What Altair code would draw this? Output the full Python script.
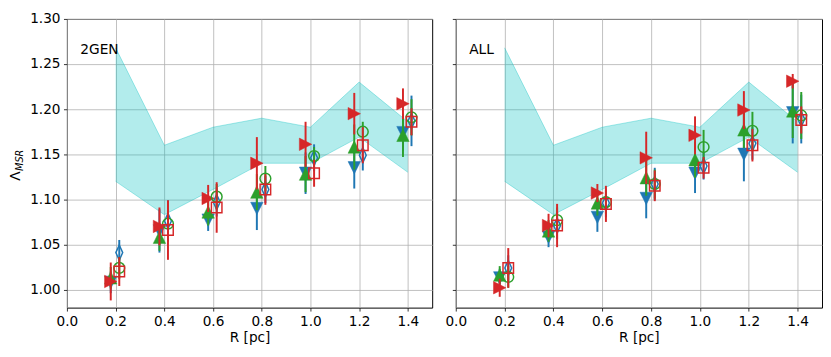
import altair as alt
import pandas as pd

R = [0.2, 0.4, 0.6, 0.8, 1.0, 1.2, 1.4]
x_ticks = [0.0, 0.2, 0.4, 0.6, 0.8, 1.0, 1.2, 1.4]
y_ticks = [1.00, 1.05, 1.10, 1.15, 1.20, 1.25, 1.30]

band_lo = [1.120, 1.083, 1.111, 1.140, 1.140, 1.169, 1.130]
band_hi = [1.268, 1.160, 1.180, 1.190, 1.180, 1.230, 1.186]

panels = ["2GEN", "ALL"]

# 2GEN panel values and error half-widths
gen_blue_fill = [1.008, 1.065, 1.077, 1.090, 1.129, 1.135, 1.174]
gen_blue_fill_err = [0.012, 0.024, 0.012, 0.024, 0.023, 0.023, 0.020]
gen_green_fill = [1.013, 1.058, 1.086, 1.108, 1.128, 1.158, 1.171]
gen_green_fill_err = [0.012, 0.015, 0.015, 0.020, 0.020, 0.025, 0.024]
gen_red_fill = [1.009, 1.070, 1.101, 1.140, 1.161, 1.195, 1.206]
gen_red_fill_err = [0.021, 0.021, 0.015, 0.029, 0.025, 0.023, 0.017]
gen_blue_open = [1.041, 1.076, 1.097, 1.111, 1.146, 1.149, 1.187]
gen_blue_open_err = [0.014, 0.023, 0.016, 0.015, 0.015, 0.017, 0.028]
gen_green_open = [1.024, 1.073, 1.103, 1.123, 1.148, 1.175, 1.191]
gen_green_open_err = [0.012, 0.016, 0.014, 0.014, 0.010, 0.011, 0.020]
gen_red_open = [1.020, 1.066, 1.091, 1.111, 1.129, 1.160, 1.186]
gen_red_open_err = [0.016, 0.033, 0.028, 0.017, 0.015, 0.020, 0.015]

# ALL panel values and error half-widths
all_blue_fill = [1.013, 1.058, 1.080, 1.101, 1.129, 1.150, 1.196]
all_blue_fill_err = [0.010, 0.011, 0.016, 0.022, 0.022, 0.030, 0.034]
all_green_fill = [1.016, 1.065, 1.096, 1.124, 1.144, 1.177, 1.198]
all_green_fill_err = [0.010, 0.012, 0.014, 0.020, 0.020, 0.020, 0.030]
all_red_fill = [1.002, 1.071, 1.107, 1.146, 1.171, 1.199, 1.231]
all_red_fill_err = [0.010, 0.013, 0.010, 0.029, 0.021, 0.021, 0.008]
all_blue_open = [1.024, 1.071, 1.096, 1.117, 1.137, 1.162, 1.189]
all_blue_open_err = [0.014, 0.015, 0.016, 0.018, 0.015, 0.018, 0.027]
all_green_open = [1.014, 1.077, 1.097, 1.117, 1.158, 1.176, 1.193]
all_green_open_err = [0.012, 0.014, 0.013, 0.016, 0.019, 0.021, 0.026]
all_red_open = [1.024, 1.071, 1.095, 1.115, 1.135, 1.160, 1.188]
all_red_open_err = [0.022, 0.024, 0.020, 0.017, 0.012, 0.018, 0.015]

BLUE, GREEN, RED = "#1f77b4", "#2ca02c", "#d62728"
DOWN = "M0,1L-1,-1L1,-1Z"
UP = "M0,-1L-1,1L1,1Z"
RIGHT = "M1,0L-1,-1L-1,1Z"
THIN_DIAMOND = "M0,-1L0.45,0L0,1L-0.45,0Z"

# name, color, shape, filled, x-offset, size
styles = [
    ("blue_fill", BLUE, DOWN, True, -0.02, 160),
    ("green_fill", GREEN, UP, True, -0.02, 160),
    ("red_fill", RED, RIGHT, True, -0.02, 160),
    ("blue_open", BLUE, THIN_DIAMOND, False, 0.015, 240),
    ("green_open", GREEN, "circle", False, 0.015, 120),
    ("red_open", RED, "square", False, 0.015, 115),
]

values = {
    "2GEN": {
        "blue_fill": (gen_blue_fill, gen_blue_fill_err),
        "green_fill": (gen_green_fill, gen_green_fill_err),
        "red_fill": (gen_red_fill, gen_red_fill_err),
        "blue_open": (gen_blue_open, gen_blue_open_err),
        "green_open": (gen_green_open, gen_green_open_err),
        "red_open": (gen_red_open, gen_red_open_err),
    },
    "ALL": {
        "blue_fill": (all_blue_fill, all_blue_fill_err),
        "green_fill": (all_green_fill, all_green_fill_err),
        "red_fill": (all_red_fill, all_red_fill_err),
        "blue_open": (all_blue_open, all_blue_open_err),
        "green_open": (all_green_open, all_green_open_err),
        "red_open": (all_red_open, all_red_open_err),
    },
}

FONT = "DejaVu Sans"
W_LEFT, W_RIGHT, H = 372, 373, 294

xscale = alt.Scale(domain=[0.0, 1.5], nice=False, zero=False, padding=0)
yscale = alt.Scale(domain=[0.98, 1.30], nice=False, zero=False, padding=0)


def make_panel(name, first, width):
    xaxis = alt.Axis(values=x_ticks, format=".1f", title="R [pc]", grid=True)
    if first:
        yaxis = alt.Axis(values=y_ticks, format=".2f", title=None, grid=True)
    else:
        yaxis = alt.Axis(values=y_ticks, labels=False, title=None, grid=True)

    band_df = pd.DataFrame({"x": R, "lo": band_lo, "hi": band_hi})
    band = alt.Chart(band_df).mark_area(color="#00bfbf", opacity=0.3).encode(
        x=alt.X("x:Q", scale=xscale, axis=xaxis),
        y=alt.Y("lo:Q", scale=yscale, axis=yaxis),
        y2="hi:Q",
    )
    edge_lo = alt.Chart(band_df).mark_line(color="#00bfbf", opacity=0.35, strokeWidth=1).encode(
        x=alt.X("x:Q", scale=xscale), y=alt.Y("lo:Q", scale=yscale)
    )
    edge_hi = alt.Chart(band_df).mark_line(color="#00bfbf", opacity=0.35, strokeWidth=1).encode(
        x=alt.X("x:Q", scale=xscale), y=alt.Y("hi:Q", scale=yscale)
    )
    layers = [band, edge_lo, edge_hi]

    for sname, color, shape, filled, off, size in styles:
        vals, errs = values[name][sname]
        df = pd.DataFrame({
            "x": [r + off for r in R],
            "y": vals,
            "lo": [v - e for v, e in zip(vals, errs)],
            "hi": [v + e for v, e in zip(vals, errs)],
        })
        rule = alt.Chart(df).mark_rule(color=color, strokeWidth=2).encode(
            x=alt.X("x:Q", scale=xscale),
            y=alt.Y("lo:Q", scale=yscale),
            y2="hi:Q",
        )
        if filled:
            pt = alt.Chart(df).mark_point(shape=shape, size=size, filled=True, fill=color,
                                          stroke=color, strokeWidth=0.5, opacity=1)
        else:
            pt = alt.Chart(df).mark_point(shape=shape, size=size, filled=False, fill=None,
                                          stroke=color, strokeWidth=1.5, opacity=1)
        pt = pt.encode(x=alt.X("x:Q", scale=xscale), y=alt.Y("y:Q", scale=yscale))
        layers += [rule, pt]

    lab_df = pd.DataFrame({"x": [0.055], "y": [1.265], "t": [name]})
    lab = alt.Chart(lab_df).mark_text(align="left", baseline="middle", fontSize=14,
                                      font=FONT, color="black").encode(
        x=alt.X("x:Q", scale=xscale), y=alt.Y("y:Q", scale=yscale), text="t:N"
    )
    layers.append(lab)

    if first:
        ttl_df = pd.DataFrame({"t": ["\u039b"]})
        sub_df = pd.DataFrame({"t": ["MSR"]})
        ttl = alt.Chart(ttl_df).mark_text(angle=270, align="center", baseline="middle",
                                          fontSize=14, font=FONT, color="black").encode(
            x=alt.value(-52), y=alt.value(160), text="t:N")
        sub = alt.Chart(sub_df).mark_text(angle=270, align="center", baseline="middle",
                                          fontSize=10, font=FONT, fontStyle="italic",
                                          color="black").encode(
            x=alt.value(-48), y=alt.value(144), text="t:N")
        layers += [ttl, sub]

    return alt.layer(*layers).properties(width=width, height=H)


left = make_panel("2GEN", True, W_LEFT)
right = make_panel("ALL", False, W_RIGHT)

chart = alt.hconcat(left, right, spacing=11).properties(
    padding={"left": 0, "top": 0, "right": 0, "bottom": 0}
).configure_view(
    stroke="black", strokeWidth=1
).configure_axis(
    gridColor="#b0b0b0", gridWidth=0.8, tickColor="black", tickSize=3.5, tickWidth=0.8,
    domain=False, labelFont=FONT, labelFontSize=13.9, labelColor="black",
    titleFont=FONT, titleFontSize=13.9, titleColor="black", titleFontWeight="normal",
    labelPadding=3.5, titlePadding=3, labelFlush=False, labelOverlap=False
).configure_text(font=FONT)

chart.save("out.html", embed_options={"renderer": "svg", "actions": False})
